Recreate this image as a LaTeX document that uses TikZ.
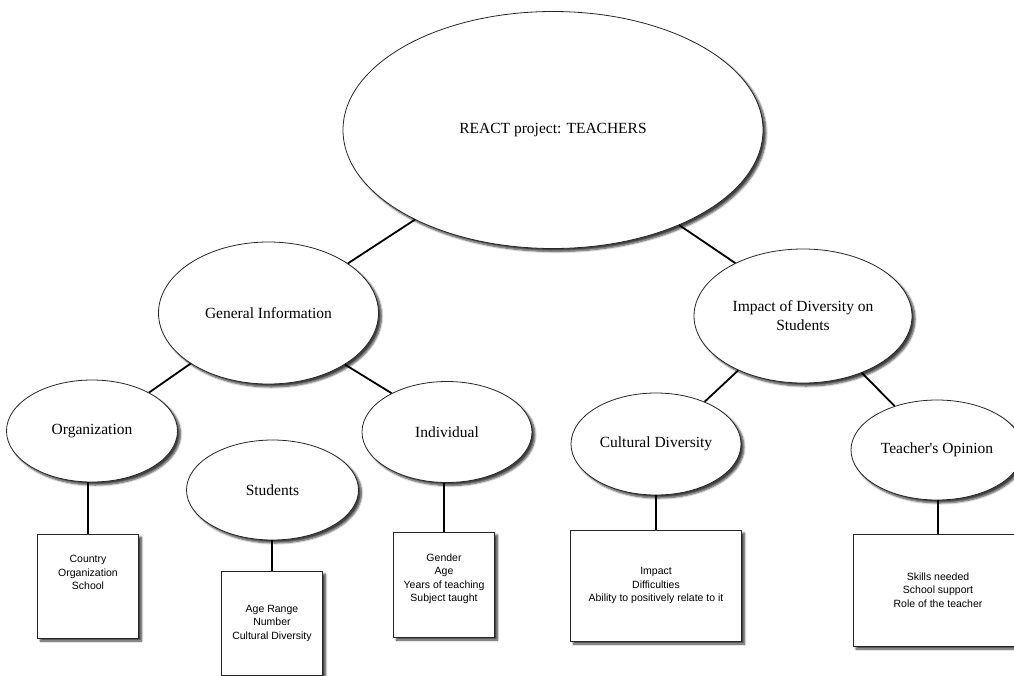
\documentclass[tikz,border=0pt]{standalone}
\usepackage{fontspec}
\setmainfont{Liberation Serif}
\newfontfamily\plainserif{Liberation Serif}[Ligatures=TeXOff]
\newfontfamily\boxfont{Liberation Sans}
\usetikzlibrary{shapes.geometric,shadows.blur}
\tikzset{
  shad/.style={blur shadow={shadow xshift=3pt,shadow yshift=-3pt,shadow blur radius=2pt,shadow opacity=75,shadow blur steps=6}},
  ell/.style={ellipse,draw=black!85,line width=0.8pt,fill=white,inner sep=0pt,shad,
    align=center,font=\fontsize{15.5}{19}\selectfont},
  infobox/.style={rectangle,draw=black!85,line width=0.9pt,fill=white,inner sep=0pt,shad,
    align=center,font=\boxfont\fontsize{10.5}{13.5}\selectfont},
  conn/.style={line width=1.8pt,black}
}
\begin{document}
\begin{tikzpicture}[x=1pt,y=-1pt]
\useasboundingbox (0,0) rectangle (1014,675);
\clip (0,0) rectangle (1014,675);
% ellipses
\node[ell,minimum width=420pt,minimum height=237pt] (top) at (553,130) {\raisebox{-3pt}{REACT project: TEACHERS}};
\node[ell,minimum width=220pt,minimum height=142pt] (gen) at (268.5,313) {General Information};
\node[ell,minimum width=218pt,minimum height=134pt] (imp) at (803,316) {Impact of Diversity on\\Students};
\node[ell,minimum width=171pt,minimum height=102pt] (org) at (92,431) {Organization};
\node[ell,minimum width=172pt,minimum height=100pt] (stu) at (272.5,490) {Students};
\node[ell,minimum width=170pt,minimum height=101pt] (ind) at (447,432) {Individual};
\node[ell,minimum width=170pt,minimum height=102pt] (cul) at (656,444) {Cultural Diversity};
\node[ell,minimum width=172pt,minimum height=100pt] (tea) at (937,450) {{\plainserif Teacher's Opinion}};
% boxes
\node[infobox,minimum width=101pt,minimum height=104pt] (orgbox) at (88,586) {Country\\Organization\\School\\\mbox{}\\\mbox{}};
\node[infobox,minimum width=101pt,minimum height=104pt] (stubox) at (272,623) {Age Range\\Number\\Cultural Diversity};
\node[infobox,minimum width=101pt,minimum height=105pt] (indbox) at (444,584.5) {Gender\\Age\\Years of teaching\\Subject taught\\\mbox{}};
\node[infobox,minimum width=171pt,minimum height=111pt] (culbox) at (656,585.5) {Impact\\Difficulties\\Ability to positively relate to it};
\node[infobox,minimum width=170pt,minimum height=112pt] (teabox) at (938,590) {Skills needed\\School support\\Role of the teacher};
% connectors
\draw[conn] (top.213) -- (gen.32.7);
\draw[conn] (top.323.4) -- (imp.142);
\draw[conn] (gen.213.7) -- (org.34.9);
\draw[conn] (gen.326.7) -- (ind.145.6);
\draw[conn] (imp.220.3) -- (cul.41.2);
\draw[conn] (imp.316.5) -- (tea.134.4);
\draw[conn] (orgbox.north) -- (orgbox.north |- org.south);
\draw[conn] (stubox.north) -- (stubox.north |- stu.south);
\draw[conn] (indbox.north) -- (indbox.north |- ind.south);
\draw[conn] (culbox.north) -- (culbox.north |- cul.south);
\draw[conn] (teabox.north) -- (teabox.north |- tea.south);
\end{tikzpicture}
\end{document}
